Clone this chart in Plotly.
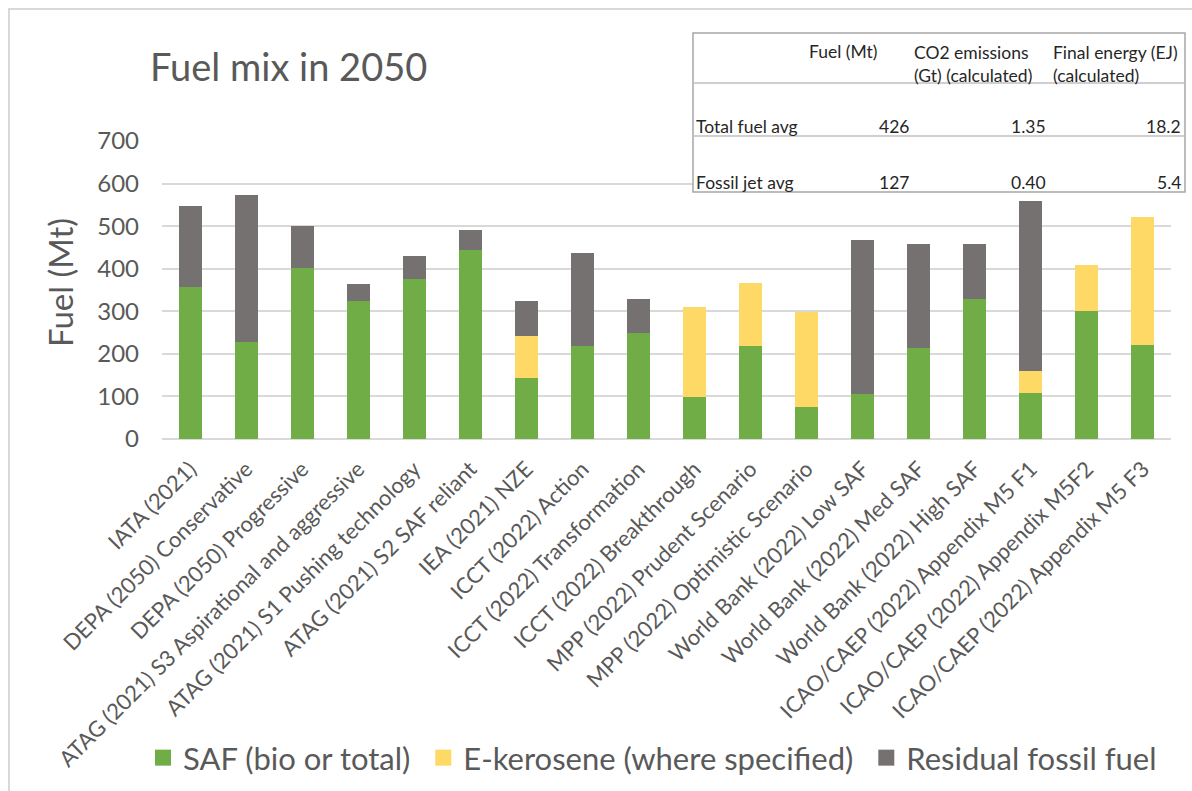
import plotly.graph_objects as go

categories = [
    "IATA (2021)",
    "DEPA (2050) Conservative",
    "DEPA (2050) Progressive",
    "ATAG (2021) S3 Aspirational and aggressive",
    "ATAG (2021) S1 Pushing technology",
    "ATAG (2021) S2 SAF reliant",
    "IEA (2021) NZE",
    "ICCT (2022) Action",
    "ICCT (2022) Transformation",
    "ICCT (2022) Breakthrough",
    "MPP (2022) Prudent Scenario",
    "MPP (2022) Optimistic Scenario",
    "World Bank (2022) Low SAF",
    "World Bank (2022) Med SAF",
    "World Bank (2022) High SAF",
    "ICAO/CAEP (2022) Appendix M5 F1",
    "ICAO/CAEP (2022) Appendix M5F2",
    "ICAO/CAEP (2022) Appendix M5 F3",
]
saf = [356, 228, 402, 325, 377, 445, 144, 218, 248, 98, 218, 76, 105, 214, 329, 109, 301, 221]
ekerosene = [0, 0, 0, 0, 0, 0, 98, 0, 0, 213, 148, 222, 0, 0, 0, 50, 108, 301]
fossil = [191, 345, 98, 38, 53, 45, 82, 219, 80, 0, 0, 0, 362, 243, 128, 399, 0, 0]

series_names = ["SAF (bio or total)", "E-kerosene (where specified)", "Residual fossil fuel"]
series_colors = ["#70AD47", "#FFD966", "#767171"]

table_header = ["Fuel (Mt)", "CO2 emissions<br>(Gt) (calculated)", "Final energy (EJ)<br>(calculated)"]
table_rows = ["Total fuel avg", "Fossil jet avg"]
table_fuel = ["426", "127"]
table_co2 = ["1.35", "0.40"]
table_energy = ["18.2", "5.4"]

FONT = "Lato"
GREY = "#595959"

W, H = 1192, 791
L, R, T, B = 162, 1171, 141, 439


def px(x):
    return (x - L) / (R - L)


def py(y):
    return (B - y) / (B - T)


fig = go.Figure()
for name, vals, col in zip(series_names, [saf, ekerosene, fossil], series_colors):
    fig.add_trace(go.Bar(x=categories, y=vals, name=name, legendgroup=name, showlegend=False,
                         marker=dict(color=col, line=dict(width=0))))
# legend entries with square swatches
for name, col in zip(series_names, series_colors):
    fig.add_trace(go.Scatter(x=[None], y=[None], mode="markers", name=name + "\u00a0", legendgroup=name,
                             marker=dict(symbol="square", size=17, color=col)))

fig.update_layout(
    width=W, height=H,
    barmode="stack", bargap=0.59,
    margin=dict(l=L, r=W - R, t=T, b=H - B, autoexpand=False),
    paper_bgcolor="white", plot_bgcolor="white",
    font=dict(family=FONT, color=GREY),
    showlegend=True,
    legend=dict(orientation="h", x=px(143), y=py(758), xanchor="left", yanchor="middle",
                font=dict(size=31, color=GREY), traceorder="normal", itemwidth=30,
                itemsizing="trace", bgcolor="rgba(0,0,0,0)"),
    xaxis=dict(tickangle=-45, tickfont=dict(size=22, color=GREY), showgrid=False,
               showline=False, ticks="", automargin=False, range=[-0.5, 17.5],
               ticklabelstandoff=12),
    yaxis=dict(range=[0, 700], dtick=100, tickfont=dict(size=24, color=GREY),
               gridcolor="#D9D9D9", gridwidth=1.5, zeroline=True, zerolinecolor="#D9D9D9",
               zerolinewidth=1.5, showline=False, ticks="", ticklabelstandoff=22,
               automargin=False),
)

shapes = []
# chart border
shapes.append(dict(type="rect", xref="paper", yref="paper", x0=px(9), x1=px(1240), y0=py(9), y1=py(840),
                   line=dict(color="#D9D9D9", width=2), fillcolor="rgba(0,0,0,0)", layer="above"))
# table box
shapes.append(dict(type="rect", xref="paper", yref="paper", x0=px(693), x1=px(1185), y0=py(33), y1=py(192),
                   line=dict(color="#A6A6A6", width=1.5), fillcolor="white", layer="above"))
for yy in [83, 136]:
    shapes.append(dict(type="line", xref="paper", yref="paper", x0=px(693), x1=px(1185), y0=py(yy), y1=py(yy),
                       line=dict(color="#BFBFBF", width=1.5), layer="above"))
fig.update_layout(shapes=shapes)

ann = []
ann.append(dict(text="Fuel mix in 2050", xref="paper", yref="paper", x=px(148), y=py(66),
                xanchor="left", yanchor="middle", showarrow=False, font=dict(size=38, color=GREY)))
ann.append(dict(text="Fuel (Mt)", xref="paper", yref="paper", x=px(60), y=py(283), textangle=-90,
                xanchor="center", yanchor="middle", showarrow=False, font=dict(size=33, color=GREY)))

TF = dict(size=17.5, color="#262626")
header_x = [807, 912, 1051]
header_y = [52, 63.5, 63.5]
for hx, hy, ht in zip(header_x, header_y, table_header):
    ann.append(dict(text=ht, xref="paper", yref="paper", x=px(hx), y=py(hy), xanchor="left", yanchor="middle",
                    align="left", showarrow=False, font=TF))
row_y = [127, 182]
for i, ry in enumerate(row_y):
    ann.append(dict(text=table_rows[i], xref="paper", yref="paper", x=px(694), y=py(ry), xanchor="left",
                    yanchor="middle", showarrow=False, font=TF))
    for rx, vals in zip([911, 1048, 1183], [table_fuel, table_co2, table_energy]):
        ann.append(dict(text=vals[i], xref="paper", yref="paper", x=px(rx), y=py(ry), xanchor="right",
                        yanchor="middle", showarrow=False, font=TF))
fig.update_layout(annotations=ann)

fig.write_html("out.html")
